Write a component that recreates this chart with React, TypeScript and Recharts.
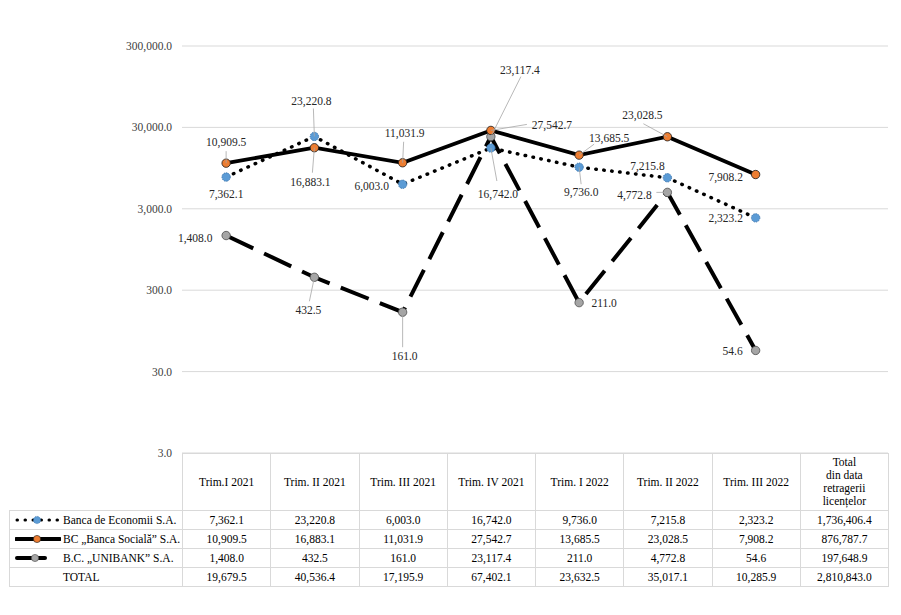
import React from 'react'
import { LineChart, Line, XAxis, YAxis, CartesianGrid, LabelList } from 'recharts'

const categories = [
  'Trim.I 2021',
  'Trim. II 2021',
  'Trim. III 2021',
  'Trim. IV 2021',
  'Trim. I 2022',
  'Trim. II 2022',
  'Trim. III 2022',
  'Total',
]
const totalHeader = ['Total', 'din data', 'retragerii', 'licențelor']

const seriesNames = ['Banca de Economii S.A.', 'BC „Banca Socială” S.A.', 'B.C. „UNIBANK” S.A.']
const economii = [7362.1, 23220.8, 6003.0, 16742.0, 9736.0, 7215.8, 2323.2]
const sociala = [10909.5, 16883.1, 11031.9, 27542.7, 13685.5, 23028.5, 7908.2]
const unibank = [1408.0, 432.5, 161.0, 23117.4, 211.0, 4772.8, 54.6]
const totalQuarter = [19679.5, 40536.4, 17195.9, 67402.1, 23632.5, 35017.1, 10285.9]
// "Total din data retragerii licentelor" column: Economii, Sociala, Unibank, TOTAL
const sinceWithdrawal = [1736406.4, 876787.7, 197648.9, 2810843.0]

const yTicks = [3, 30, 300, 3000, 30000, 300000]

// label placement: [dx, dy, leaderDx, leaderDy] relative to the point
const econLabels = [[0, 17], [-3, -35, -1, -28], [-31, 2], [7, 46, 6, 33], [2, 25, 2, 17], [-20, -12], [-30, 0]]
const socLabels = [[0, -21, 0, -12], [-4, 34, -2, 25], [2, -30, 1, -21], [61, -5, 36, -6], [30, -17, 15, -11], [-25, -22, -24, -13], [-30, 2]]
const uniLabels = [[-31, 2], [-6, 33, -5, 24], [2, 44, 0, 35], [29, -67, 30, -60], [25, 0], [-33, 3, -11, 0], [-23, 1]]

const W = 901
const H = 615
const PLOT_LEFT = 182
const PLOT_RIGHT = 888
const PLOT_TOP = 46
const PLOT_BOTTOM = 453
const BAND = (PLOT_RIGHT - PLOT_LEFT) / categories.length
const FONT = 'Liberation Serif, Times New Roman, DejaVu Serif, serif'

const BLUE = '#5b9bd5'
const ORANGE = '#ed7d31'
const GRAY = '#a5a5a5'
const GRID = '#d9d9d9'

const chartData = categories.map((c, i) => ({
  name: c,
  e: economii[i] ?? null,
  s: sociala[i] ?? null,
  u: unibank[i] ?? null,
}))

const fmt = (v: number) =>
  v.toLocaleString('en-US', { minimumFractionDigits: 1, maximumFractionDigits: 1 })

function makeLabel(offsets: number[][]) {
  return (props: any) => {
    const { x, y, value, index } = props
    if (value == null || x == null || y == null) return null
    const o = offsets[index] || [0, -12]
    return (
      <g>
        {o.length > 2 && (
          <line x1={x} y1={y} x2={x + o[2]} y2={y + o[3]} stroke="#a6a6a6" strokeWidth={0.8} />
        )}
        <text
          x={x + o[0]}
          y={y + o[1]}
          textAnchor="middle"
          dominantBaseline="central"
          style={{ fontFamily: FONT, fontSize: 11.5 }}
          fill="#262626"
        >
          {fmt(value)}
        </text>
      </g>
    )
  }
}

const blueDot = (p: any) =>
  p.cx == null || p.payload.e == null ? <g key={p.key} /> : (
    <circle key={p.key} cx={p.cx} cy={p.cy} r={4.2} fill={BLUE} stroke="#3f78b0" strokeWidth={1} strokeDasharray="1.4 1" />
  )
const orangeDot = (p: any) =>
  p.cx == null || p.payload.s == null ? <g key={p.key} /> : (
    <circle key={p.key} cx={p.cx} cy={p.cy} r={4.2} fill={ORANGE} stroke="#1a1a1a" strokeWidth={0.8} />
  )
const grayDot = (p: any) =>
  p.cx == null || p.payload.u == null ? <g key={p.key} /> : (
    <circle key={p.key} cx={p.cx} cy={p.cy} r={4.2} fill={GRAY} stroke="#4d4d4d" strokeWidth={0.8} />
  )

function LegendSymbol({ kind }: { kind: number }) {
  if (kind === 0) {
    return (
      <svg width={46} height={10} style={{ display: 'block' }}>
        <line x1={2} y1={5} x2={44} y2={5} stroke="#000" strokeWidth={3} strokeLinecap="round" strokeDasharray="0.5 7.5" />
        <circle cx={22} cy={5} r={3.6} fill={BLUE} stroke="#3f78b0" strokeWidth={0.8} strokeDasharray="1.4 1" />
      </svg>
    )
  }
  if (kind === 1) {
    return (
      <svg width={46} height={10} style={{ display: 'block' }}>
        <line x1={1} y1={5} x2={45} y2={5} stroke="#000" strokeWidth={4} strokeLinecap="round" />
        <circle cx={22} cy={5} r={3.6} fill={ORANGE} stroke="#1a1a1a" strokeWidth={0.6} />
      </svg>
    )
  }
  return (
    <svg width={46} height={10} style={{ display: 'block' }}>
      <line x1={2} y1={5} x2={30} y2={5} stroke="#000" strokeWidth={4} strokeLinecap="round" />
      <circle cx={20} cy={5} r={3.6} fill={GRAY} stroke="#4d4d4d" strokeWidth={0.6} />
    </svg>
  )
}

const cellBorder = `1px solid ${GRID}`

function DataTable() {
  const rows = [
    { sym: 0, name: seriesNames[0], vals: [...economii, sinceWithdrawal[0]] },
    { sym: 1, name: seriesNames[1], vals: [...sociala, sinceWithdrawal[1]] },
    { sym: 2, name: seriesNames[2], vals: [...unibank, sinceWithdrawal[2]] },
    { sym: -1, name: 'TOTAL', vals: [...totalQuarter, sinceWithdrawal[3]] },
  ]
  const td: React.CSSProperties = {
    border: cellBorder,
    textAlign: 'center',
    padding: 0,
    height: 18,
    whiteSpace: 'nowrap',
  }
  return (
    <table
      style={{
        position: 'absolute',
        left: 9,
        top: PLOT_BOTTOM,
        width: PLOT_RIGHT - 9,
        borderCollapse: 'collapse',
        tableLayout: 'fixed',
        fontFamily: FONT,
        fontSize: 11.5,
        color: '#000',
        lineHeight: '13px',
      }}
    >
      <colgroup>
        <col style={{ width: PLOT_LEFT - 9 }} />
        {categories.map((c) => (
          <col key={c} style={{ width: BAND }} />
        ))}
      </colgroup>
      <tbody>
        <tr style={{ height: 56 }}>
          <td style={{ padding: 0, border: 'none', borderRight: cellBorder, borderBottom: cellBorder }} />
          {categories.map((c, i) => (
            <td key={c} style={{ ...td, height: 56 }}>
              {i === categories.length - 1
                ? totalHeader.map((l) => <div key={l}>{l}</div>)
                : c}
            </td>
          ))}
        </tr>
        {rows.map((r) => (
          <tr key={r.name} style={{ height: 18 }}>
            <td style={{ ...td, textAlign: 'left' }}>
              <div style={{ display: 'flex', alignItems: 'center' }}>
                <div style={{ width: 46, marginLeft: 5, marginRight: 2 }}>
                  {r.sym >= 0 && <LegendSymbol kind={r.sym} />}
                </div>
                <span>{r.name}</span>
              </div>
            </td>
            {r.vals.map((v, i) => (
              <td key={i} style={td}>
                {fmt(v)}
              </td>
            ))}
          </tr>
        ))}
      </tbody>
    </table>
  )
}

export default function App() {
  return (
    <div style={{ position: 'relative', width: W, height: H, background: '#fff' }}>
      <style>{'body{margin:0}'}</style>
      <LineChart
        width={W}
        height={H}
        data={chartData}
        margin={{ top: PLOT_TOP, right: W - PLOT_RIGHT, bottom: H - PLOT_BOTTOM, left: 0 }}
      >
        <CartesianGrid vertical={false} stroke={GRID} strokeWidth={1} />
        <XAxis dataKey="name" hide padding={{ left: BAND / 2, right: BAND / 2 }} />
        <YAxis
          scale="log"
          domain={[3, 300000]}
          ticks={yTicks}
          allowDataOverflow
          width={PLOT_LEFT}
          axisLine={false}
          tickLine={false}
          tickMargin={4}
          tickFormatter={fmt}
          tick={{ fontFamily: FONT, fontSize: 11.5, fill: '#404040', style: { fontFamily: FONT } }}
        />
        <Line
          dataKey="e"
          stroke="#000"
          strokeWidth={3.5}
          strokeLinecap="round"
          strokeDasharray="0.5 7.5"
          dot={false}
          activeDot={false}
          isAnimationActive={false}
        />
        <Line
          dataKey="s"
          stroke="#000"
          strokeWidth={3.8}
          dot={false}
          activeDot={false}
          isAnimationActive={false}
        />
        <Line
          dataKey="u"
          stroke="#000"
          strokeWidth={4}
          strokeDasharray="30 12"
          dot={false}
          activeDot={false}
          isAnimationActive={false}
        />
        <Line dataKey="e" stroke="none" dot={blueDot} activeDot={false} isAnimationActive={false}>
          <LabelList dataKey="e" content={makeLabel(econLabels)} />
        </Line>
        <Line dataKey="u" stroke="none" dot={grayDot} activeDot={false} isAnimationActive={false}>
          <LabelList dataKey="u" content={makeLabel(uniLabels)} />
        </Line>
        <Line dataKey="s" stroke="none" dot={orangeDot} activeDot={false} isAnimationActive={false}>
          <LabelList dataKey="s" content={makeLabel(socLabels)} />
        </Line>
      </LineChart>
      <DataTable />
    </div>
  )
}
